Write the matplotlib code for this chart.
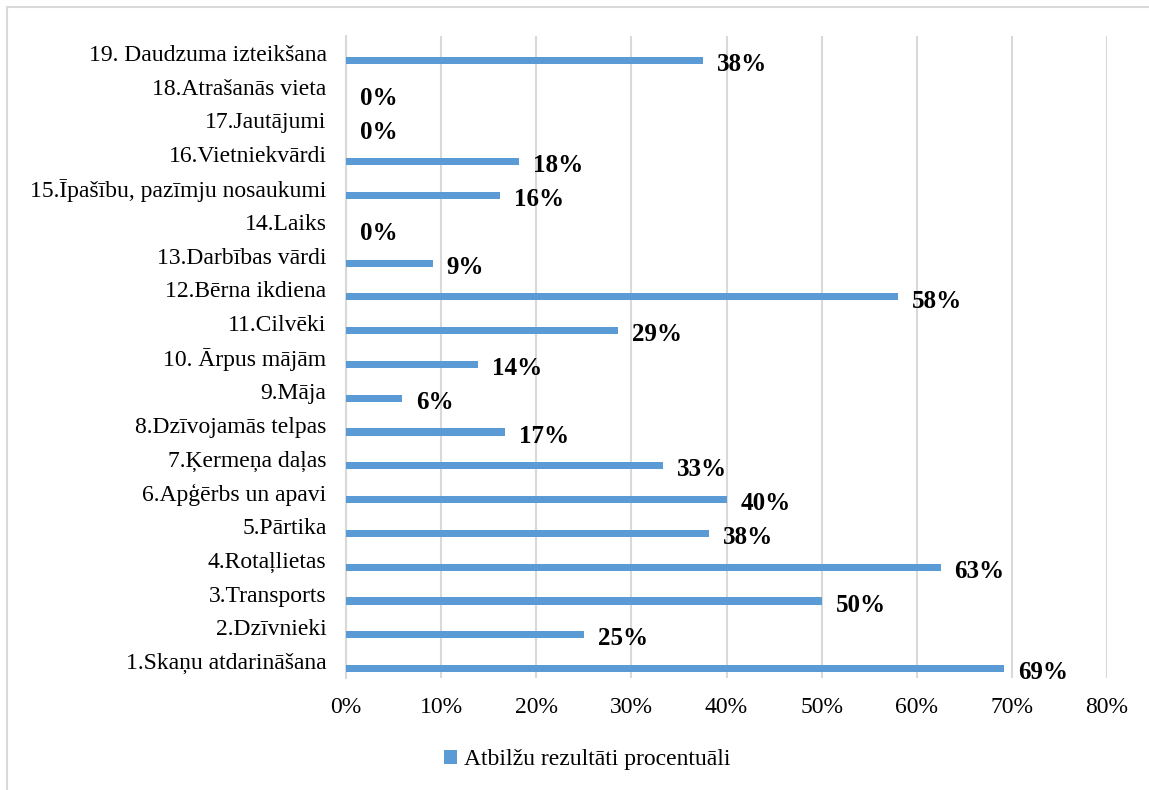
import numpy as np
import matplotlib
matplotlib.use("Agg")
import matplotlib.pyplot as plt
from matplotlib.patches import Rectangle

# categories from bottom (1) to top (19)
categories = [
    "1.Skaņu atdarināšana",
    "2.Dzīvnieki",
    "3.Transports",
    "4.Rotaļlietas",
    "5.Pārtika",
    "6.Apģērbs un apavi",
    "7.Ķermeņa daļas",
    "8.Dzīvojamās telpas",
    "9.Māja",
    "10. Ārpus mājām",
    "11.Cilvēki",
    "12.Bērna ikdiena",
    "13.Darbības vārdi",
    "14.Laiks",
    "15.Īpašību, pazīmju nosaukumi",
    "16.Vietniekvārdi",
    "17.Jautājumi",
    "18.Atrašanās vieta",
    "19. Daudzuma izteikšana",
]
values = [69.2, 25.0, 50.0, 62.5, 38.2, 40.0, 33.3, 16.7, 5.9, 13.9,
          28.6, 58.0, 9.1, 0.0, 16.2, 18.2, 0.0, 0.0, 37.5]
series_name = "Atbilžu rezultāti procentuāli"
xticks = [0, 10, 20, 30, 40, 50, 60, 70, 80]

bar_color = "#5B9BD5"
grid_color = "#D9D9D9"

plt.rcParams["font.family"] = ["Liberation Serif", "DejaVu Serif"]

fig = plt.figure(figsize=(11.49, 7.90), dpi=100)
ax = fig.add_axes([346 / 1149, 1 - 678 / 790, (1107 - 346) / 1149, (678 - 36) / 790])

pos = np.arange(len(categories))
bar_pos = pos - 0.22
ax.barh(bar_pos, values, height=0.21, color=bar_color, label=series_name, zorder=3)

for y, v in zip(bar_pos, values):
    ax.annotate(f"{int(v + 0.5)}%", (v, y), xytext=(10, -3), textcoords="offset points",
                ha="left", va="center", fontsize=18, fontweight="bold", color="black")

ax.set_xlim(0, 80)
ax.set_ylim(-0.5, len(categories) - 0.5)
ax.set_xticks(xticks)
ax.set_xticklabels([f"{t}%" for t in xticks])
ax.set_yticks(pos)
ax.set_yticklabels(categories)
ax.tick_params(axis="both", length=0, labelsize=17, colors="black")
ax.tick_params(axis="x", pad=14)
ax.tick_params(axis="y", pad=14)

ax.grid(axis="x", color=grid_color, linewidth=1.5, zorder=0)
ax.set_axisbelow(True)
for s in ["top", "right", "bottom"]:
    ax.spines[s].set_visible(False)
ax.spines["left"].set_color(grid_color)
ax.spines["left"].set_linewidth(1.5)

fig.legend(loc="center", bbox_to_anchor=(587 / 1149, 1 - 760 / 790), frameon=False,
           fontsize=17, handlelength=0.55, handleheight=0.55, handletextpad=0.3)

fig.patches.append(Rectangle((7 / 1149, -0.1), 1.2, 1 - 7 / 790 + 0.1,
                             transform=fig.transFigure, fill=False,
                             edgecolor=grid_color, linewidth=1.5))

fig.savefig("out.png", dpi=100)
